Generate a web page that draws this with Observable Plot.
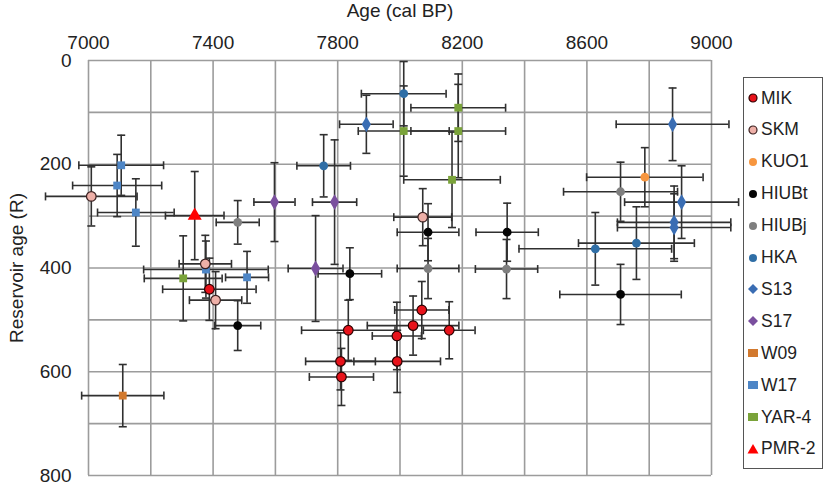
<!DOCTYPE html>
<html>
<head>
<meta charset="utf-8">
<script src="https://cdn.jsdelivr.net/npm/d3@7"></script>
<script src="https://cdn.jsdelivr.net/npm/@observablehq/plot@0.6"></script>
<style>
  html, body { margin: 0; padding: 0; background: #fff; }
  #wrap { position: relative; width: 827px; height: 485px; font-family: "Liberation Sans", Arial, sans-serif; }
  #legend { position: absolute; left: 743px; top: 77px; width: 80px; height: 392px; border: 1.5px solid #555; box-sizing: border-box; background: #fff; }
  .lg-row { position: absolute; left: 3px; height: 20px; display: flex; align-items: center; font-size: 17.5px; color: #222; white-space: nowrap; }
  .lg-row svg { margin-right: 2px; }
</style>
</head>
<body>
<div id="wrap"><div id="legend"></div></div>
<script>
// Each row: [age (cal BP), reservoir age R, age error (±), R error (±)]
const MIK = [
  [7388, 441, 150, 60],
  [8070, 481, 87, 55],
  [8042, 511, 147, 57],
  [8158, 520, 83, 55],
  [7834, 520, 150, 58],
  [7990, 531, 79, 65],
  [7809, 580, 112, 55],
  [7991, 580, 139, 60],
  [7812, 610, 103, 55]
];
const SKM = [[7009, 262, 147, 57], [7375, 392, 84, 55], [7408, 462, 84, 55], [8073, 302, 93, 55]];
const KUO1 = [[8786, 225, 187, 57]];
const HIUBt = [[7479, 511, 74, 48], [8090, 331, 99, 55], [8344, 331, 100, 56], [7839, 411, 102, 50], [8708, 451, 195, 58]];
const HIUBj = [[7479, 312, 69, 42], [8090, 401, 99, 58], [8342, 402, 100, 57], [8708, 253, 183, 57]];
const HKA = [[8012, 64, 136, 62], [7755, 203, 86, 60], [8627, 363, 245, 70], [8759, 352, 186, 70]];
const S13 = [[7892, 123, 86, 56], [8875, 123, 181, 70], [8904, 273, 183, 70], [8880, 312, 182, 70], [8880, 322, 182, 65]];
const S17 = [[7597, 273, 66, 76], [7790, 273, 71, 120], [7729, 401, 88, 102]];
const W09 = [[7110, 646, 132, 60]];
const W17 = [[7105, 202, 136, 58], [7092, 241, 143, 60], [7152, 293, 123, 65], [7377, 403, 200, 55], [7509, 418, 69, 50]];
const YAR4 = [[7304, 420, 125, 82], [8012, 136, 146, 87], [8187, 91, 152, 65], [8187, 136, 152, 90], [8167, 230, 155, 92]];
const PMR2 = [[7341, 299, 94, 85]];

const xTicks = [7000, 7400, 7800, 8200, 8600, 9000];
const xGrid = [7000, 7200, 7400, 7600, 7800, 8000, 8200, 8400, 8600, 8800, 9000];
const yTicks = [0, 200, 400, 600, 800];
const yGrid = [0, 100, 200, 300, 400, 500, 600, 700, 800];

const seriesDefs = [
  {name: "MIK", data: MIK, fill: "#e8131b", stroke: "#2a0000", symbol: "circle", r: 4.8, leg: "circle"},
  {name: "SKM", data: SKM, fill: "#eeb0a8", stroke: "#3a2020", symbol: "circle", r: 4.8, leg: "circle"},
  {name: "KUO1", data: KUO1, fill: "#f7963f", stroke: "none", symbol: "circle", r: 4.4, leg: "circle"},
  {name: "HIUBt", data: HIUBt, fill: "#050505", stroke: "none", symbol: "circle", r: 4.4, leg: "circle"},
  {name: "HIUBj", data: HIUBj, fill: "#7f7f7f", stroke: "none", symbol: "circle", r: 4.4, leg: "circle"},
  {name: "HKA", data: HKA, fill: "#2f6ea6", stroke: "none", symbol: "circle", r: 4.4, leg: "circle"},
  {name: "S13", data: S13, fill: "#3a6db3", stroke: "none", symbol: "diamond", r: 4.8, leg: "diamond"},
  {name: "S17", data: S17, fill: "#7a4f9e", stroke: "none", symbol: "diamond", r: 4.8, leg: "diamond"},
  {name: "W09", data: W09, fill: "#d2792e", stroke: "none", symbol: "square", r: 4.4, leg: "square"},
  {name: "W17", data: W17, fill: "#4e86c6", stroke: "none", symbol: "square", r: 4.4, leg: "square"},
  {name: "YAR-4", data: YAR4, fill: "#7aa33a", stroke: "none", symbol: "square", r: 4.4, leg: "square"},
  {name: "PMR-2", data: PMR2, fill: "#ff0000", stroke: "none", symbol: "triangle", r: 5.2, leg: "triangle"}
];

const rows = seriesDefs.flatMap((s, si) => s.data.map(([age, R, ae, re]) => ({
  series: s.name, si, age, R, ae, re
})));

const vcap = { draw(ctx, size) { const h = Math.sqrt(size / Math.PI); ctx.moveTo(0, -h); ctx.lineTo(0, h); } };
const hcap = { draw(ctx, size) { const h = Math.sqrt(size / Math.PI); ctx.moveTo(-h, 0); ctx.lineTo(h, 0); } };

const barColor = "#303030";
const barW = 1.6;

const marks = [
  Plot.gridX(xGrid, {stroke: "#9c9c9c", strokeOpacity: 1, strokeWidth: 1.6}),
  Plot.gridY(yGrid, {stroke: "#9c9c9c", strokeOpacity: 1, strokeWidth: 1.6}),
  Plot.axisX({anchor: "top", ticks: xTicks, tickSize: 0, tickPadding: 12, tickFormat: d => String(d),
    fontSize: 19, label: "Age (cal BP)", labelAnchor: "center", labelArrow: "none"}),
  Plot.axisY({anchor: "left", ticks: yTicks, tickSize: 0, tickPadding: 17, tickFormat: d => String(d),
    fontSize: 19, label: "Reservoir age (R)", labelAnchor: "center", labelOffset: 79, labelArrow: "none"}),
  // horizontal error bars
  Plot.ruleY(rows, {y: "R", x1: d => d.age - d.ae, x2: d => d.age + d.ae, stroke: barColor, strokeWidth: barW}),
  Plot.dot(rows, {x: d => d.age - d.ae, y: "R", symbol: vcap, r: 4, fill: "none", stroke: barColor, strokeWidth: barW}),
  Plot.dot(rows, {x: d => d.age + d.ae, y: "R", symbol: vcap, r: 4, fill: "none", stroke: barColor, strokeWidth: barW}),
  // vertical error bars
  Plot.ruleX(rows, {x: "age", y1: d => d.R - d.re, y2: d => d.R + d.re, stroke: barColor, strokeWidth: barW}),
  Plot.dot(rows, {x: "age", y: d => d.R - d.re, symbol: hcap, r: 4, fill: "none", stroke: barColor, strokeWidth: barW}),
  Plot.dot(rows, {x: "age", y: d => d.R + d.re, symbol: hcap, r: 4, fill: "none", stroke: barColor, strokeWidth: barW})
];

// markers: draw later series first so MIK ends on top
for (const s of [...seriesDefs].reverse()) {
  marks.push(Plot.dot(rows.filter(d => d.series === s.name), {
    x: "age", y: "R", symbol: s.symbol, r: s.r, fill: s.fill,
    stroke: s.stroke, strokeWidth: s.stroke === "none" ? 0 : 1.2
  }));
}

const chart = Plot.plot({
  width: 827,
  height: 485,
  marginLeft: 88,
  marginRight: 116,
  marginTop: 60,
  marginBottom: 10,
  style: {fontFamily: '"Liberation Sans", Arial, sans-serif', fontSize: "19px", color: "#222", background: "#fff", overflow: "visible"},
  x: {domain: [7000, 9000]},
  y: {domain: [0, 800], reverse: true},
  marks
});
document.getElementById("wrap").prepend(chart);

// legend
const legend = document.getElementById("legend");
const legIcon = (s) => {
  const c = 6;
  let shape;
  if (s.leg === "circle") shape = `<circle cx="${c}" cy="${c}" r="4" fill="${s.fill}" stroke="${s.stroke === "none" ? "none" : s.stroke}" stroke-width="1.2"/>`;
  else if (s.leg === "diamond") shape = `<path d="M${c} ${c-5}L${c+5} ${c}L${c} ${c+5}L${c-5} ${c}Z" fill="${s.fill}"/>`;
  else if (s.leg === "square") shape = `<rect x="${c-5}" y="${c-4}" width="10" height="8" fill="${s.fill}"/>`;
  else shape = `<path d="M${c} ${c-5}L${c+5.5} ${c+4.5}L${c-5.5} ${c+4.5}Z" fill="${s.fill}"/>`;
  return `<svg width="12" height="12" viewBox="0 0 12 12">${shape}</svg>`;
};
seriesDefs.forEach((s, i) => {
  const row = document.createElement("div");
  row.className = "lg-row";
  row.style.top = (20 + i * 31.9 - 10) + "px";
  row.innerHTML = legIcon(s) + `<span>${s.name}</span>`;
  legend.appendChild(row);
});
</script>
</body>
</html>
